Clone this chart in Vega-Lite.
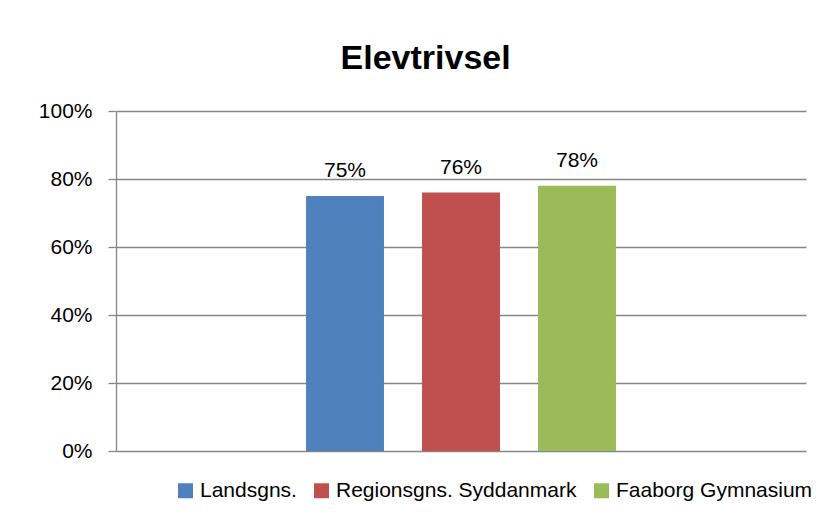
{
  "$schema": "https://vega.github.io/schema/vega-lite/v6.json",
  "autosize": {"type": "none"},
  "width": 690,
  "height": 340,
  "padding": {"left": 116, "top": 111, "right": 25, "bottom": 80},
  "background": "white",
  "title": {
    "text": "Elevtrivsel",
    "anchor": "middle",
    "frame": "bounds",
    "font": "Liberation Sans",
    "fontSize": 34,
    "fontWeight": "bold",
    "color": "#000000",
    "offset": 24
  },
  "data": {
    "values": [
      {"kategori": "Elevtrivsel", "serie": "Landsgns.", "andel": 0.75},
      {"kategori": "Elevtrivsel", "serie": "Regionsgns. Syddanmark", "andel": 0.76},
      {"kategori": "Elevtrivsel", "serie": "Faaborg Gymnasium", "andel": 0.78}
    ]
  },
  "encoding": {
    "x": {
      "field": "kategori",
      "type": "nominal",
      "scale": {"paddingInner": 0, "paddingOuter": 0.30996},
      "axis": null
    },
    "xOffset": {
      "field": "serie",
      "type": "nominal",
      "sort": ["Landsgns.", "Regionsgns. Syddanmark", "Faaborg Gymnasium"],
      "scale": {"paddingInner": 0.328, "paddingOuter": 0.5}
    },
    "y": {
      "field": "andel",
      "type": "quantitative",
      "scale": {"domain": [0, 1], "nice": false},
      "axis": {
        "title": null,
        "values": [0, 0.2, 0.4, 0.6, 0.8, 1],
        "format": ".0%",
        "grid": true,
        "gridColor": "#868686",
        "gridWidth": 1.3,
        "domain": true,
        "domainColor": "#868686",
        "domainWidth": 1.3,
        "ticks": true,
        "tickColor": "#868686",
        "tickWidth": 1.3,
        "tickSize": 8,
        "labelPadding": 16,
        "labelFont": "Liberation Sans",
        "labelFontSize": 21,
        "labelColor": "#000000"
      }
    }
  },
  "layer": [
    {
      "mark": {"type": "bar"},
      "encoding": {
        "color": {
          "field": "serie",
          "type": "nominal",
          "sort": ["Landsgns.", "Regionsgns. Syddanmark", "Faaborg Gymnasium"],
          "scale": {
            "domain": ["Landsgns.", "Regionsgns. Syddanmark", "Faaborg Gymnasium"],
            "range": ["#4F81BD", "#C0504D", "#9BBB59"]
          },
          "legend": {
            "title": null,
            "orient": "none",
            "direction": "horizontal",
            "legendX": 59,
            "legendY": 369,
            "symbolType": "square",
            "symbolSize": 225,
            "symbolStrokeWidth": 0,
            "labelFont": "Liberation Sans",
            "labelFontSize": 21,
            "labelColor": "#000000",
            "labelOffset": 4,
            "columnPadding": 14,
            "labelLimit": 400
          }
        }
      }
    },
    {
      "mark": {
        "type": "text",
        "baseline": "alphabetic",
        "dy": -19,
        "font": "Liberation Sans",
        "fontSize": 21,
        "color": "#000000"
      },
      "encoding": {
        "text": {"field": "andel", "type": "quantitative", "format": ".0%"}
      }
    }
  ],
  "config": {"view": {"stroke": null}}
}
